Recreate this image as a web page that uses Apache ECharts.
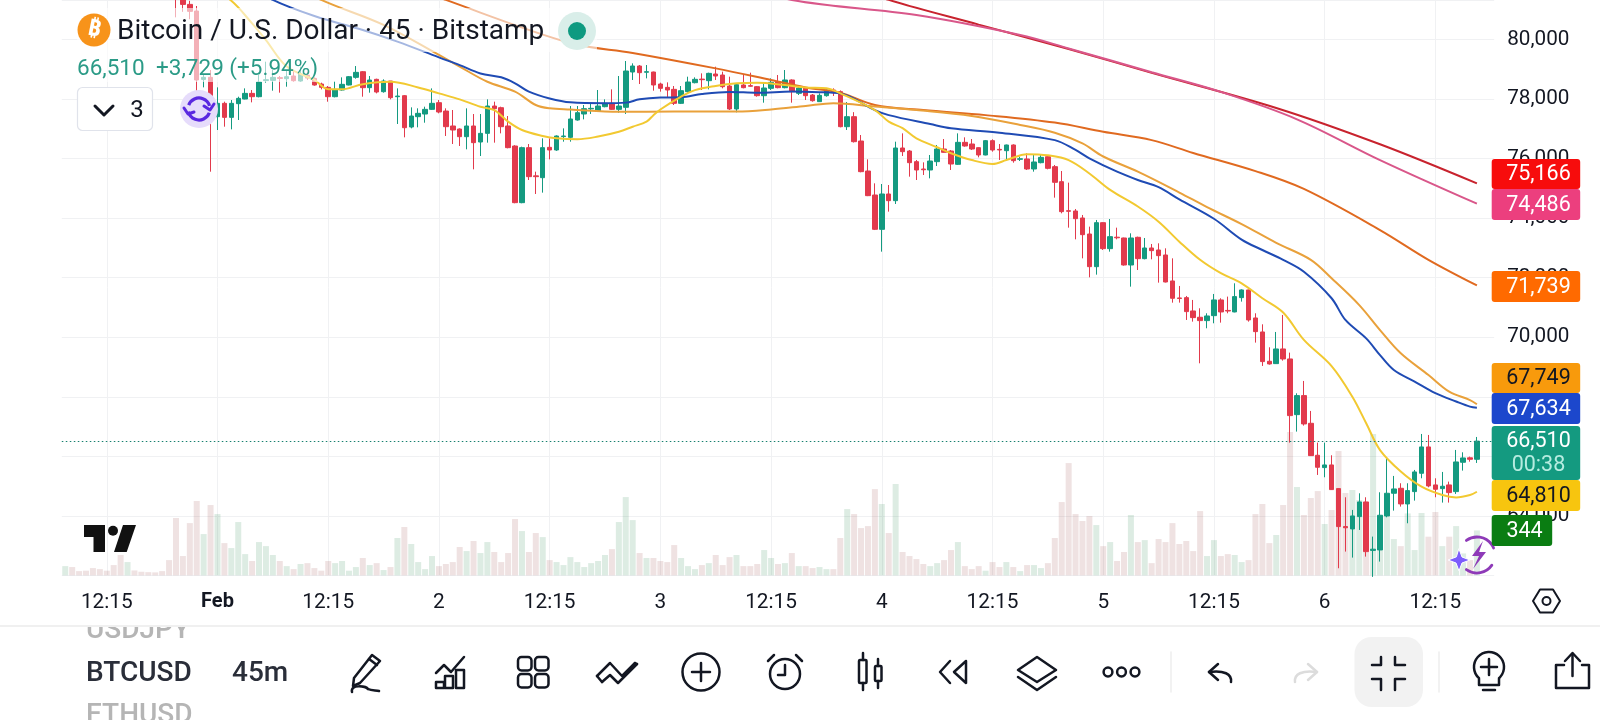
<!DOCTYPE html>
<html><head><meta charset="utf-8">
<style>html,body{margin:0;padding:0;background:#fff}#c{width:1600px;height:720px}</style>
<script src="https://cdn.jsdelivr.net/npm/echarts@6/dist/echarts.min.js"></script>
</head><body><div id="c"></div>
<script>
const xTickBars=[6,22,38,54,70,86,102,118,134,150,166,182,198];
const xTickLabels=['12:15','Feb','12:15','2','12:15','3','12:15','4','12:15','5','12:15','6','12:15'];
const yTickLabels=[64000,66000,68000,70000,72000,74000,76000,78000,80000];
const blankBarsRight=2;

const opens=[83600,83650,83620,83580,83550,83490,83440,83400,83320,83050,
83200,83170,83140,83120,83100,83060,82600,81500,81180,80957,
78660,78730,77408,77856,77385,77845,78001,78191,78079,78620,
78628,78720,78684,78774,78606,78796,78695,78505,78393,78079,
78303,78471,78729,78919,78382,78662,78247,78606,78079,78113,
77061,77408,77497,77654,77878,77598,77095,76994,76736,77095,
76557,76848,77766,77710,77095,76423,74520,76367,75420,75359,
76378,76289,76740,76714,77296,77498,77670,77598,77744,77856,
77654,77722,78908,79110,78900,78908,78505,78393,78326,77856,
78248,78550,78670,78617,78841,78807,78438,77666,78472,78450,
78416,78113,78360,78584,78382,78640,78192,78371,78136,77912,
78113,78304,78248,77072,77408,76590,75583,74777,73624,74811,
74587,76356,76255,75897,75650,75617,75897,76322,76255,75807,
76546,76490,76367,76121,76602,76310,76266,76457,75975,75987,
75651,75863,76065,75729,75225,74250,74240,74005,73467,72370,
73848,72975,73360,73333,72426,73356,72639,72997,72930,72762,
71890,71320,71330,70882,70670,70558,70725,71252,70900,70849,
71330,71588,70647,70177,69192,69113,69606,69270,67400,68039,
67109,66035,65621,65710,64915,63640,63561,63975,64467,62840,
62855,63997,64759,64926,64400,64814,65430,66315,65039,64915,
65039,64814,65800,65950,65900];
const closes=[83650,83620,83580,83550,83490,83440,83400,83320,83050,83200,
83170,83140,83120,83100,83060,82600,81500,81180,80945,78640,
78729,77408,77856,77385,77856,78023,78191,78079,78572,78650,
78729,78690,78751,78617,78841,78706,78471,78393,78079,78326,
78494,78751,78897,78382,78639,78236,78606,78046,78100,77038,
77430,77520,77654,77856,77565,77072,76960,76736,77095,76535,
76848,77766,77677,77072,76367,74520,76367,75393,75393,76367,
76289,76759,76759,77330,77542,77677,77688,77766,77856,77654,
77766,78942,79110,78886,78920,78472,78360,78304,77856,78281,
78572,78662,78650,78863,78774,78415,77666,78483,78382,78430,
78113,78371,78561,78382,78640,78248,78371,78113,77945,78125,
78304,78214,77072,77408,76568,75561,74755,73624,74811,74587,
76356,76233,75863,75617,75625,75919,76322,76210,75818,76546,
76423,76322,76121,76602,76289,76290,76457,75930,75995,75651,
75886,76042,75673,75203,74218,74230,73982,73445,72370,73848,
72975,73378,73340,72426,73333,72639,72997,72908,72740,71855,
71308,71300,70860,70658,70558,70714,71252,70849,70880,71364,
71588,70580,70188,69181,69102,69606,69270,67367,68039,67087,
66023,65632,65710,64882,63639,63600,63997,64467,62799,62880,
64020,64759,64904,64400,64848,65475,66315,65005,64893,64994,
64781,65811,65945,65900,66510];
const lows=[83500,83560,83530,83500,83440,83400,83350,83280,82950,83000,
83100,83080,83060,83040,83000,82500,80744,80930,80680,78080,
78393,75560,76960,77072,76982,77296,77990,77889,78057,78550,
78281,78214,78415,78583,78583,78639,78449,78326,77911,78057,
78281,78460,78684,78079,78214,78191,78214,77990,77162,76714,
77016,77050,77206,77632,77520,76759,76490,76423,76311,75639,
76087,76535,76535,76848,76345,74500,74500,75281,74811,74856,
75975,76260,76568,76568,77274,77318,77498,77576,77722,77632,
77542,77498,78640,78505,78695,78281,78248,78057,77800,77833,
78214,78527,78304,78326,78640,78360,77632,77554,78360,78416,
78080,77878,78304,78360,78360,77878,78136,77968,77912,77912,
78080,78102,77050,76960,76540,75540,74740,73600,72874,74218,
74475,76087,75393,75281,75449,75337,75751,76199,75617,75785,
76400,76289,76042,76110,76233,75953,75953,75863,75919,75617,
75561,75841,75639,74688,74162,73680,73288,72650,72012,72102,
72930,72874,73288,72404,71699,72258,72617,72617,71833,71840,
71161,71162,70580,70524,69124,70300,70468,70490,70804,70837,
71196,70524,69819,69035,69080,69102,69214,66460,66830,67031,
66010,65374,65296,64870,62240,62800,62598,63527,62631,61950,
62464,63952,64176,64311,63751,64512,65262,64960,64624,64445,
64445,64736,65520,65820,65777];
const highs=[83750,83700,83670,83640,83600,83540,83490,83450,83380,83280,
83260,83230,83190,83170,83150,83100,82700,81800,81300,81125,
78807,78975,78393,77912,77968,78079,78359,78303,78807,79255,
78975,78774,78975,78975,79087,78919,78729,78550,78438,78583,
78729,78774,79109,78942,78774,78684,78662,78606,78359,78136,
77721,77688,77744,78359,77968,77688,77632,77016,77688,77497,
77497,77990,77912,77744,77430,76450,76400,76490,75561,76680,
76680,76780,77016,77766,77766,77800,77856,78304,77990,78326,
78774,79278,79199,79143,79143,78920,78550,78561,78438,78438,
78751,78729,78863,78886,79087,78920,78751,78505,78807,78886,
78438,78550,78695,78807,78975,78662,78472,78393,78170,78192,
78326,78360,78290,77900,77560,76792,75975,75169,75147,75113,
76568,76848,76289,75953,75874,76121,76457,76658,76289,76848,
76714,76658,76378,76625,76647,76490,76470,76479,76065,76177,
76121,76121,76110,75785,75583,75192,74307,74106,73714,73938,
73860,73971,73680,73345,73490,73378,73333,73132,73154,72986,
72650,71722,71386,71252,70972,70804,71453,71308,71364,71811,
71610,71600,70804,70434,69662,70177,70748,69483,68117,68531,
67524,66460,66460,66035,64930,64624,64199,64758,64624,63303,
64792,65934,65341,65095,65095,65542,66751,66717,65262,65475,
65150,66214,66135,65990,66650];
const volumes=[71,64,33,36,56,48,36,79,156,102,
38,28,25,23,33,117,439,148,400,569,
316,538,469,247,209,408,163,110,255,224,
156,110,71,48,87,94,56,36,110,94,
110,36,64,133,79,94,41,64,286,370,
240,102,48,148,71,87,102,217,186,263,
171,255,179,102,171,431,339,179,324,293,
117,102,79,140,102,64,94,110,156,201,
408,599,423,171,133,133,110,102,232,133,
71,48,79,94,156,79,140,156,71,71,
87,194,133,87,94,171,71,71,56,64,
48,48,286,507,469,362,377,660,546,324,
699,179,148,125,87,71,94,117,194,255,
71,48,71,36,102,64,102,64,33,79,
79,56,94,286,561,859,469,416,454,385,
224,255,110,179,462,255,270,94,278,255,
400,240,263,186,492,148,270,148,163,156,
102,117,469,546,247,309,538,1096,676,462,
592,645,393,500,951,630,653,576,561,1081,
398,462,278,224,474,194,477,296,485,224,
296,377,168,117,344];

// moving averages as [bar, price] readings
const maYellow=[[14,83000],[20,81900],[24,81300],[27,80540],[29,79980],[32,79090],[36,78640],[38,78330],[40,78330],[43,78500],[47,78580],[51,78390],[54,78190],[57,77990],[60,77740],[62,77630],[64,77240],[66,76960],[69,76760],[71,76680],[74,76650],[77,76740],[80,76900],[82,77070],[84,77240],[85,77460],[86,77650],[89,78080],[91,78300],[94,78440],[97,78530],[100,78550],[104,78470],[107,78390],[110,78360],[112,78190],[117,77630],[119,77240],[121,77020],[123,76680],[126,76380],[128,76180],[131,75950],[134,75820],[136,75950],[139,76150],[142,76110],[145,75950],[148,75500],[151,74950],[155,74390],[158,73880],[161,73210],[164,72600],[167,72150],[170,71810],[173,71310],[176,70830],[179,69910],[183,69030],[186,68000],[188,67110],[190,66210],[193,65490],[196,64980],[199,64700],[201,64620],[203,64700],[204,64810]];
const maBlue=[[20,82600],[30,81330],[36,80790],[43,80320],[48,79930],[54,79400],[57,79140],[60,78860],[63,78730],[65,78530],[67,78250],[70,78020],[73,77890],[78,77860],[81,77880],[83,77990],[86,78050],[89,78060],[92,78170],[96,78240],[100,78210],[105,78250],[109,78230],[112,78190],[117,77630],[119,77460],[125,77160],[128,77020],[135,76870],[143,76620],[146,76290],[148,76010],[152,75560],[155,75280],[158,75040],[161,74630],[166,73980],[170,73280],[173,72930],[176,72600],[179,72200],[183,71310],[185,70580],[188,69960],[190,69400],[192,68900],[195,68510],[198,68120],[201,67840],[203,67670],[204,67634]];
const maOrange=[[28,82400],[37,81330],[46,80490],[54,79480],[57,79090],[61,78580],[65,78250],[68,77800],[70,77690],[73,77650],[80,77570],[88,77580],[97,77580],[102,77650],[107,77770],[111,77860],[117,77750],[123,77630],[131,77430],[138,77130],[143,76870],[147,76510],[150,76070],[155,75560],[161,74860],[165,74370],[170,73800],[175,73170],[180,72600],[183,71980],[187,71080],[190,70240],[193,69460],[197,68730],[200,68170],[203,67890],[204,67749]];
const maDeepOrange=[[44,82300],[55,81330],[73,79880],[82,79550],[94,79030],[102,78640],[107,78390],[112,78210],[117,77800],[124,77630],[133,77460],[143,77210],[150,76900],[157,76620],[163,76190],[172,75580],[179,74980],[190,73600],[197,72600],[204,71739]];
const maPink=[[95,82000],[105,81330],[123,80820],[138,80150],[145,79700],[157,78900],[167,78240],[178,77320],[190,75950],[204,74486]];
const maRed=[[108,82200],[119,81330],[132,80500],[145,79680],[157,78880],[175,77700],[190,76480],[204,75166]];
const lastPrice=66510, lastVolume=344;
const maLasts=[75166,74486,71739,67749,67634,64810];

const upColor='#149a80', downColor='#e23a4c';
const categories=opens.concat(new Array(blankBarsRight).fill(0)).map((_,i)=>{const k=xTickBars.indexOf(i);return k>=0?xTickLabels[k]:String(i);});
const isTick=i=>xTickBars.includes(i);
const fmt=n=>String(n).replace(/\B(?=(\d{3})+$)/g,',');
const F='Roboto, "Noto Sans", sans-serif';
const INK='#131722';

function mkLine(name,data,color){return {name,type:'line',data,showSymbol:false,symbol:'none',smooth:0.35,
  lineStyle:{color,width:2},itemStyle:{color},z:4,silent:true,animation:false};}

const els=[];
const add=e=>{e.z=e.z||100;e.silent=true;els.push(e);};
const stroke=(o)=>Object.assign({stroke:INK,lineWidth:2.5,fill:'none',lineCap:'round',lineJoin:'round'},o||{});
const pl=(pts,o)=>add({type:'polyline',shape:{points:pts},style:stroke(o)});
const pg=(pts,o)=>add({type:'polygon',shape:{points:pts},style:stroke(o)});
const ci=(cx,cy,r,o)=>add({type:'circle',shape:{cx,cy,r},style:stroke(o)});
const rr=(x,y,w,h,r,o)=>add({type:'rect',shape:{x,y,width:w,height:h,r},style:stroke(o)});
const arc=(cx,cy,r,a,b,o)=>add({type:'arc',shape:{cx,cy,r,startAngle:a,endAngle:b,clockwise:true},style:stroke(o)});
const bz=(x1,y1,cx1,cy1,cx2,cy2,x2,y2,o)=>add({type:'bezierCurve',shape:{x1,y1,cpx1:cx1,cpy1:cy1,cpx2:cx2,cpy2:cy2,x2,y2},style:stroke(o)});
const tx=(text,x,y,font,fill,align,extra)=>add(Object.assign({type:'text',style:{text,x,y,font:font+' '+F,fill,textAlign:align||'left',textVerticalAlign:'middle'}},extra||{}));

// fade behind the legend rows
add({type:'rect',z:50,shape:{x:77,y:8,width:520,height:44},style:{fill:'rgba(255,255,255,0.6)'}});
add({type:'rect',z:50,shape:{x:77,y:52,width:246,height:30},style:{fill:'rgba(255,255,255,0.6)'}});

// legend
ci(94,30,16.5,{fill:'#f7931a',stroke:'none'});
tx('₿',94,30,'bold 23px','#fff','center',{rotation:-0.2,originX:94,originY:30});
tx('Bitcoin / U.S. Dollar · 45 · Bitstamp',117,32,'28px',INK);
ci(577,31,19,{fill:'#d9eee9',stroke:'none'});
ci(577,31,9,{fill:'#0e9a80',stroke:'none'});
tx(fmt(lastPrice),77,69,'22.5px','#2b9b87');
tx('+3,729 (+5.94%)',156,69,'22.5px','#2b9b87');
rr(77.5,87.5,75,43,5,{stroke:'#e0e3eb',lineWidth:1.2,fill:'#fff'});
pl([[95,106],[104,115],[113,106]],{lineWidth:3});
tx('3',137,111,'24px',INK,'center');
// refresh badge
ci(199,109,19,{fill:'#e6dcfb',stroke:'none'});
arc(199,109,11,3.5,6.0,{stroke:'#5a28e0',lineWidth:3.2,lineCap:'butt'});
arc(199,109,11,0.35,2.9,{stroke:'#5a28e0',lineWidth:3.2,lineCap:'butt'});
pl([[204,106],[210,110],[214,104]],{stroke:'#5a28e0',lineWidth:3});
pl([[184,108],[188,114],[194,112]],{stroke:'#5a28e0',lineWidth:3});
// TV logo
pg([[84,525],[105,525],[105,552],[93.5,552],[93.5,537],[84,537]],{fill:'#111',stroke:'none'});
ci(113,530.7,5,{fill:'#111',stroke:'none'});
pg([[123,525],[136,525],[126.7,552],[114,552]],{fill:'#111',stroke:'none'});
// lightning badge
arc(1477,555,18,-2.2,-0.4,{stroke:'#8e3ab8',lineWidth:2.8});
arc(1477,555,18,0.6,2.2,{stroke:'#8e3ab8',lineWidth:2.8});
pg([[1483,541],[1472,556],[1479,556],[1473,569],[1486,552],[1479,552]],{fill:'#8e3ab8',stroke:'none'});
pg([[1459,549],[1462,557],[1470,560],[1462,563],[1459,571],[1456,563],[1448,560],[1456,557]],{fill:'#7c5cfc',stroke:'#fff',lineWidth:1});

// price tags
const TX=1491.7, TW=88.5, TC=TX+TW/2+2.5;
function tag(text,x,y,w,h,bg,fg,cx){rr(x,y,w,h,3,{fill:bg,stroke:'none'});tx(text,cx,y+h/2+1,'21.5px',fg,'center');}
tag(fmt(maLasts[0]),TX,159,TW,30,'#f70c0c','#fff',TC);
tag(fmt(maLasts[1]),TX,189,TW,31,'#ec3f7e','#fff',TC);
tag(fmt(maLasts[2]),TX,271,TW,31,'#ff6a00','#fff',TC);
tag(fmt(maLasts[3]),TX,363,TW,30,'#f89a0c',INK,TC);
tag(fmt(maLasts[4]),TX,393,TW,31,'#1c47cc','#fff',TC);
rr(TX,426,TW,54,3,{fill:'#149a80',stroke:'none'});
tx(fmt(lastPrice),TC,442,'21.5px','#fff','center');
tx('00:38',TC,466,'21.5px','#b6ece0','center');
tag(fmt(maLasts[5]),TX,480,TW,31,'#f7c50f',INK,TC);
tag(String(lastVolume),TX,515,60.5,31,'#0a7d12','#fff',1524.5);

// settings hexagon
pg([[1533,601],[1540,589.5],[1553,589.5],[1560,601],[1553,612.5],[1540,612.5]],{lineWidth:2});
ci(1546.5,601,4,{lineWidth:2});

// toolbar
tx('USDJPY',86,631,'500 28px','#b5b5b5');
add({type:'rect',shape:{x:80,y:612,width:130,height:13},style:{fill:'#fff'}});
add({type:'rect',shape:{x:0,y:625,width:1600,height:2},style:{fill:'#f0f0f0'}});
tx('BTCUSD',86,674,'500 28px','#2a2e39');
tx('45m',232,674,'500 28px','#2a2e39');
tx('ETHUSD',86,716,'500 28px','#b5b5b5');
// pen
pg([[372,655],[380,661],[360,683],[353,686],[354,678]]);
pl([[369,659],[377,665]]);
bz(352,692,350,684,366,686,368,689);bz(368,689,372,691,376,690,379,691);
// chart
pl([[436,673],[444,665],[451,672],[464,657]]);
rr(436,682,8,6,0,{});rr(445,676,8,12,0,{});rr(456,670,8,18,0,{});
// grid
[[518,657],[535,657],[518,674],[535,674]].forEach(p=>rr(p[0],p[1],13.5,13.5,3.5,{}));
// arrows
pl([[597,676],[610,663],[622,676],[635,663]],{lineWidth:2.5});
pl([[602,682],[610,675],[618,683],[629,672],[637,664]],{lineWidth:2.5});
pl([[597,676],[602,682]],{});pl([[635,663],[637,664]],{});
// plus
ci(701,672,18.5,{});pl([[692,672],[710,672]]);pl([[701,663],[701,681]]);
// alarm
ci(785,674,15,{});pl([[785,665],[785,675],[778,675]]);pl([[768,661],[774,655]]);pl([[796,655],[802,661]]);
// candles
rr(859,660,7.5,23,1,{});pl([[863,653],[863,660]]);pl([[863,683],[863,690]]);
rr(875,666,6.5,15,1,{});pl([[878,659],[878,666]]);pl([[878,681],[878,688]]);
// rewind
pl([[950,661],[940,672],[950,683]]);pg([[966,661],[954,672],[966,683]]);
// layers
pg([[1037,657],[1056,670],[1037,682],[1018,670]]);pl([[1018,677],[1037,690],[1056,677]]);
// dots
ci(1108,672,4.4,{});ci(1121.5,672,4.4,{});ci(1135,672,4.4,{});
// separators
[1171,1439].forEach(x=>pl([[x,652],[x,692]],{stroke:'#eeeeee',lineWidth:1.5}));
// undo / redo
pl([[1218,664],[1209,672],[1218,680]]);bz(1209,672,1224,670,1232,674,1231,682);
pl([[1308,664],[1317,672],[1308,680]],{stroke:'#dcdcdc'});bz(1317,672,1302,670,1294,674,1295,682,{stroke:'#dcdcdc'});
// fullscreen pill
rr(1354.5,637,68.5,70,17,{fill:'#f2f2f2',stroke:'none'});
pl([[1381,657],[1381,665],[1372,665]]);pl([[1395,657],[1395,665],[1405,665]]);
pl([[1372,679],[1381,679],[1381,690]]);pl([[1405,679],[1395,679],[1395,690]]);
// bulb
arc(1489,667,15,2.3,0.84,{});
pl([[1489,659],[1489,675]]);pl([[1481,667],[1497,667]]);
pl([[1479,679],[1479,685],[1499,685],[1499,679]]);pl([[1483,690],[1495,690]]);
// share
pl([[1564,665],[1556,665],[1556,688],[1589,688],[1589,665],[1582,665]]);
pl([[1572.5,676],[1572.5,654]]);pl([[1565,661],[1572.5,653],[1580,661]]);

const option={
  animation:false,backgroundColor:'#fff',
  grid:{left:61.8,top:0,width:1432.4,height:575.4,containLabel:false},
  xAxis:{type:'category',data:categories,boundaryGap:true,
    axisLine:{show:false},axisTick:{show:false,alignWithLabel:true},
    splitLine:{show:true,alignWithLabel:true,interval:(i)=>isTick(i),lineStyle:{color:'#f0f1f3',width:1}},
    axisLabel:{interval:(i)=>isTick(i),margin:17,fontFamily:'Roboto',fontSize:20.8,color:INK,hideOverlap:false,
      formatter:(v)=>v==='Feb'?'{b|Feb}':v,rich:{b:{fontFamily:'Roboto',fontSize:20,fontWeight:'bold',color:INK}}}},
  yAxis:[{type:'value',position:'right',min:62000,max:81327,interval:2000,scale:true,
      axisLine:{show:false},axisTick:{show:false},
      splitLine:{show:true,lineStyle:{color:'#f0f1f3',width:1}},
      axisLabel:{margin:13,fontFamily:'Roboto',fontSize:20.7,color:INK,showMaxLabel:false,padding:[3,0,0,0],
        formatter:(v)=>yTickLabels.includes(v)?fmt(v):''}},
    {type:'value',min:0,max:4400,show:false,splitLine:{show:false}}],
  series:[
    {name:'Volume',type:'bar',yAxisIndex:1,barWidth:6,z:1,silent:true,
     data:volumes.map((v,i)=>({value:v,itemStyle:{color:closes[i]>=opens[i]?'rgba(30,130,70,0.15)':'rgba(150,60,60,0.15)'}}))},
    {name:'BTCUSD',type:'candlestick',barWidth:5,z:3,silent:true,clip:true,
     data:opens.map((o,i)=>[o,closes[i],lows[i],highs[i]]),
     itemStyle:{color:upColor,color0:downColor,borderColor:upColor,borderColor0:downColor,borderWidth:1},
     markLine:{silent:true,symbol:'none',label:{show:false},animation:false,
       lineStyle:{color:'#17806f',type:[1.5,2.5],width:1.2},data:[{yAxis:lastPrice}]}},
    mkLine('MA A',maRed,'#c8232e'),
    mkLine('MA B',maPink,'#d9578a'),
    mkLine('MA C',maDeepOrange,'#e06a20'),
    mkLine('MA D',maOrange,'#e9a13b'),
    mkLine('MA E',maBlue,'#1f4bb4'),
    mkLine('MA F',maYellow,'#f2c931')
  ],
  graphic:{elements:els}
};
const chart=echarts.init(document.getElementById('c'),null,{renderer:'canvas',width:1600,height:720});
chart.setOption(option);
</script></body></html>
